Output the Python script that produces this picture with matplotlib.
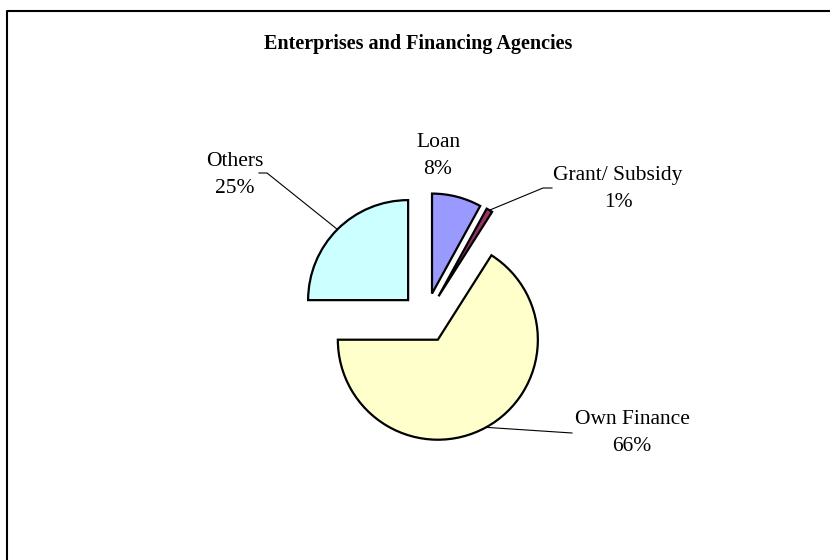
import numpy as np
from matplotlib import pyplot as plt

plt.rcParams['font.family'] = ['Liberation Serif', 'DejaVu Serif']

W, H = 830, 560
px = 1 / 100

# data
categories = ['Loan', 'Grant/ Subsidy', 'Own Finance', 'Others']
shares = [8, 1, 66, 25]
colors = ['#9999FF', '#993366', '#FFFFCC', '#CCFFFF']
title = 'Enterprises and Financing Agencies'

# label text centres (pixels from top-left) and leader elbow points
label_pos = {
    'Loan': (438, 156),
    'Grant/ Subsidy': (618, 189),
    'Own Finance': (632, 433),
    'Others': (235, 175),
}
leader_end = {
    'Grant/ Subsidy': [(543, 188), (552, 188)],
    'Own Finance': [(572, 433)],
    'Others': [(267, 173), (259, 173)],
}

def py(y):
    return H - y

fig = plt.figure(figsize=(W * px, H * px), dpi=100)
ax = fig.add_axes([0, 0, 1, 1])

# chart frame (runs off the right and bottom edge)
ax.plot([6.5, 6.5, W + 5], [-5, py(10.5), py(10.5)], color='black', lw=1.5,
        solid_capstyle='butt')

ax.text(418, py(44), title, ha='center', va='center', fontsize=14.5,
        fontweight='bold')

R = 100
center = (425.8, py(317.8))
wedges, _ = ax.pie(shares, colors=colors, startangle=90, counterclock=False,
                   radius=R, center=center, explode=[25] * len(shares),
                   wedgeprops=dict(edgecolor='black', linewidth=1.6),
                   frame=True)
ax.set_xlim(0, W)
ax.set_ylim(0, H)
ax.set_aspect('equal')
ax.axis('off')

for w, name, val in zip(wedges, categories, shares):
    lx, ly = label_pos[name]
    ax.text(lx, py(ly), f'{name}\n{val}%', ha='center', va='center',
            fontsize=15.5, linespacing=1.6)
    if name in leader_end:
        mid = np.deg2rad((w.theta1 + w.theta2) / 2)
        cx, cy = w.center
        xs = [cx + w.r * np.cos(mid)]
        ys = [cy + w.r * np.sin(mid)]
        for ex, ey in leader_end[name]:
            xs.append(ex)
            ys.append(py(ey))
        ax.plot(xs, ys, color='black', lw=0.8)

plt.savefig('out.png', dpi=100)
